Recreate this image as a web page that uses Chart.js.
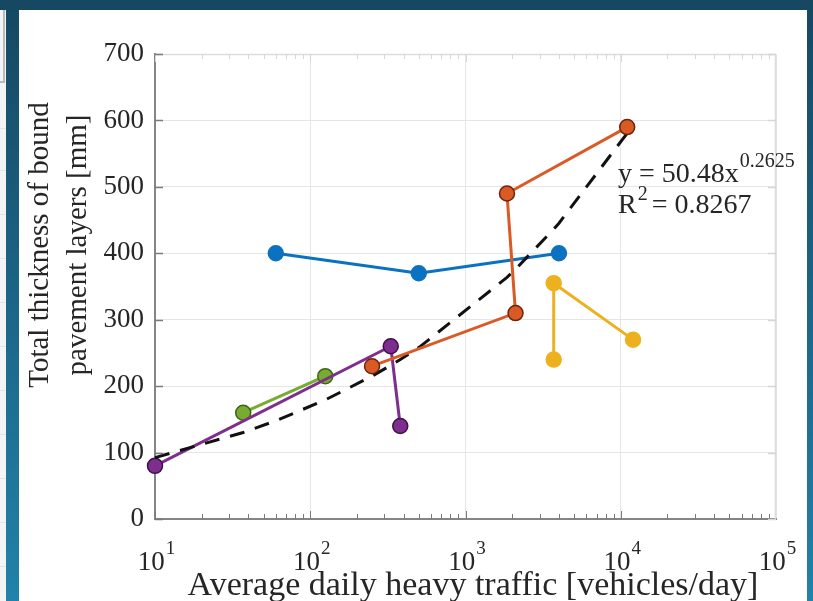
<!DOCTYPE html>
<html>
<head>
<meta charset="utf-8">
<script src="https://cdn.jsdelivr.net/npm/chart.js@4.4.1/dist/chart.umd.min.js"></script>
<style>
  html, body { margin: 0; padding: 0; background: #1a4d6a; }
  canvas { display: block; }
</style>
</head>
<body>
<canvas id="c" width="813" height="601"></canvas>
<script>
// Average daily heavy traffic [vehicles/day] and bound layer thickness [mm] per group
const trafficBlue   = [60, 500, 4000];
const thicknessBlue = [400, 370, 400];

const trafficOrange   = [250, 2100, 1850, 11000];
const thicknessOrange = [230, 310, 490, 590];

const trafficYellow   = [3700, 3700, 12000];
const thicknessYellow = [240, 355, 270];

const trafficGreen   = [37, 125];
const thicknessGreen = [160, 215];

const trafficPurple   = [10, 330, 380];
const thicknessPurple = [80, 260, 140];

// Power-law fit y = a * x^b, evaluated at the observed traffic values
const fitA = 50.48;
const fitB = 0.2625;
const fitR2 = 0.8267;
const fitTraffic = [10, 37, 60, 125, 250, 330, 380, 500, 1850, 2100, 3700, 4000, 11000];

// Axis ticks
const xTickExponents = [1, 2, 3, 4, 5];
const yTickValues = [0, 100, 200, 300, 400, 500, 600, 700];

const SERIF = '"Liberation Serif", "Times New Roman", serif';
const TEXT = '#262626';

function pts(xs, ys) { return xs.map((x, i) => ({ x: x, y: ys[i] })); }
const fitPoints = fitTraffic.map(x => ({ x: x, y: fitA * Math.pow(x, fitB) }));

function isDecade(v) {
  const l = Math.log10(v);
  return Math.abs(l - Math.round(l)) < 1e-9;
}

// Slide backdrop and white panel behind the chart
const backdrop = {
  id: 'backdrop',
  beforeDraw(chart) {
    const ctx = chart.ctx, W = chart.width, H = chart.height;
    ctx.save();
    const g = ctx.createLinearGradient(0, 0, 0, H);
    g.addColorStop(0, '#164862');
    g.addColorStop(1, '#2282aa');
    ctx.fillStyle = g;
    ctx.fillRect(0, 0, W, H);
    ctx.fillStyle = '#164862';
    ctx.fillRect(0, 0, W, 10);
    // sliver of neighbouring slide content on the far left
    ctx.fillStyle = '#f3f4f5';
    ctx.fillRect(0, 10, 6, H - 10);
    ctx.fillStyle = '#b9bcbf';
    ctx.fillRect(3, 10, 2, 72);
    ctx.fillRect(0, 81, 5, 2);
    ctx.fillStyle = '#e2e4e6';
    [128, 170, 214, 258, 302, 346, 390, 434, 478, 522, 566].forEach(y => ctx.fillRect(0, y, 6, 1));
    // white panel
    ctx.fillStyle = '#ffffff';
    ctx.fillRect(19, 10, 788, H - 10);
    ctx.restore();
  }
};

// Box, tick marks, superscript tick labels, titles and fit equation
const axesDecor = {
  id: 'axesDecor',
  afterDraw(chart) {
    const ctx = chart.ctx;
    const a = chart.chartArea;
    const xs = chart.scales.x, ys = chart.scales.y;
    ctx.save();

    // top and right box edges
    ctx.strokeStyle = '#dcdcdc';
    ctx.lineWidth = 1.5;
    ctx.beginPath();
    ctx.moveTo(a.left, a.top + 0.5); ctx.lineTo(a.right, a.top + 0.5);
    ctx.moveTo(a.right - 0.5, a.top); ctx.lineTo(a.right - 0.5, a.bottom);
    ctx.stroke();

    // x ticks (major and minor, pointing inward)
    for (let e = 1; e <= 4; e++) {
      for (let m = 1; m <= 9; m++) {
        const v = m * Math.pow(10, e);
        const px = Math.round(xs.getPixelForValue(v)) + 0.5;
        const len = m === 1 ? 8 : 5;
        ctx.strokeStyle = '#7a7a7a';
        ctx.lineWidth = 1;
        ctx.beginPath();
        ctx.moveTo(px, a.bottom); ctx.lineTo(px, a.bottom - len);
        ctx.stroke();
        ctx.strokeStyle = '#d6d6d6';
        ctx.beginPath();
        ctx.moveTo(px, a.top); ctx.lineTo(px, a.top + len);
        ctx.stroke();
      }
    }
    // y ticks
    yTickValues.forEach(v => {
      const py = Math.round(ys.getPixelForValue(v)) + 0.5;
      ctx.strokeStyle = '#7a7a7a';
      ctx.lineWidth = 1.5;
      ctx.beginPath();
      ctx.moveTo(a.left, py); ctx.lineTo(a.left + 8, py);
      ctx.stroke();
      ctx.strokeStyle = '#d6d6d6';
      ctx.beginPath();
      ctx.moveTo(a.right, py); ctx.lineTo(a.right - 8, py);
      ctx.stroke();
    });

    // x tick labels 10^n
    ctx.fillStyle = TEXT;
    ctx.textBaseline = 'alphabetic';
    xTickExponents.forEach(e => {
      const px = xs.getPixelForValue(Math.pow(10, e));
      ctx.font = '27px ' + SERIF;
      const wb = ctx.measureText('10').width;
      ctx.font = '19px ' + SERIF;
      const ws = ctx.measureText(String(e)).width;
      const x0 = px - (wb + ws) / 2 + 1;
      ctx.font = '27px ' + SERIF;
      ctx.textAlign = 'left';
      ctx.fillText('10', x0, 570);
      ctx.font = '19px ' + SERIF;
      ctx.fillText(String(e), x0 + wb + 1, 554);
    });

    // x axis title
    ctx.font = '34px ' + SERIF;
    ctx.textAlign = 'center';
    ctx.fillText('Average daily heavy traffic [vehicles/day]', 473, 595);

    // y axis title (two lines)
    ctx.save();
    ctx.translate(40, 245);
    ctx.rotate(-Math.PI / 2);
    ctx.font = '29px ' + SERIF;
    ctx.textAlign = 'center';
    ctx.textBaseline = 'middle';
    ctx.fillText('Total thickness of bound', 0, 0);
    ctx.fillText('pavement layers [mm]', 0, 38);
    ctx.restore();

    // fit equation
    const ex = xs.getPixelForValue(9600);
    const ey1 = ys.getPixelForValue(508);
    const ey2 = ys.getPixelForValue(461);
    ctx.textAlign = 'left';
    ctx.textBaseline = 'alphabetic';
    ctx.font = '28px ' + SERIF;
    const t1 = 'y = ' + fitA.toFixed(2) + 'x';
    ctx.fillText(t1, ex, ey1);
    const w1 = ctx.measureText(t1).width;
    ctx.font = '20px ' + SERIF;
    ctx.fillText(String(fitB), ex + w1 + 1, ey1 - 15);
    ctx.font = '28px ' + SERIF;
    ctx.fillText('R', ex, ey2);
    const wr = ctx.measureText('R').width;
    ctx.font = '20px ' + SERIF;
    ctx.fillText('2', ex + wr + 1, ey2 - 13);
    const w2 = ctx.measureText('2').width;
    ctx.font = '28px ' + SERIF;
    ctx.fillText(' = ' + fitR2.toFixed(4), ex + wr + w2 - 2, ey2);

    ctx.restore();
  }
};

function series(xs, ys, color, edge, order) {
  return {
    data: pts(xs, ys),
    showLine: true,
    borderColor: color,
    borderWidth: 3,
    backgroundColor: color,
    pointBackgroundColor: color,
    pointBorderColor: edge,
    pointBorderWidth: 1.5,
    pointRadius: 7.5,
    pointHoverRadius: 7.5,
    clip: false,
    order: order
  };
}

new Chart(document.getElementById('c'), {
  type: 'scatter',
  data: {
    datasets: [
      series(trafficOrange, thicknessOrange, '#da5a26', '#6e2408', 0),
      {
        data: fitPoints,
        showLine: true,
        borderColor: '#111111',
        borderWidth: 3,
        borderDash: [15, 11],
        pointRadius: 0,
        pointHoverRadius: 0,
        clip: false,
        order: 1
      },
      series(trafficPurple, thicknessPurple, '#7e2f8e', '#3e1046', 2),
      series(trafficGreen, thicknessGreen, '#77ac30', '#3f6414', 3),
      series(trafficYellow, thicknessYellow, '#edb120', '#edb120', 4),
      series(trafficBlue, thicknessBlue, '#0a72c0', '#0a72c0', 5)
    ]
  },
  options: {
    responsive: false,
    animation: false,
    events: [],
    layout: { padding: { left: 0, top: 54, right: 37, bottom: 0 } },
    plugins: { legend: { display: false }, tooltip: { enabled: false } },
    scales: {
      x: {
        type: 'logarithmic',
        min: 10,
        max: 100000,
        afterFit(s) { s.height = 82; },
        ticks: { display: false },
        grid: {
          drawTicks: false,
          color: ctx => (ctx.tick && isDecade(ctx.tick.value)) ? '#e6e6e6' : 'rgba(0,0,0,0)',
          lineWidth: 1
        },
        border: { display: true, color: '#858585', width: 2 }
      },
      y: {
        type: 'linear',
        min: 0,
        max: 700,
        afterFit(s) { s.width = 155; },
        afterBuildTicks(s) { s.ticks = yTickValues.map(v => ({ value: v })); },
        ticks: {
          padding: 11,
          color: TEXT,
          font: { family: SERIF, size: 27 }
        },
        grid: { drawTicks: false, color: '#e6e6e6', lineWidth: 1 },
        border: { display: true, color: '#858585', width: 2 }
      }
    }
  },
  plugins: [backdrop, axesDecor]
});
</script>
</body>
</html>
